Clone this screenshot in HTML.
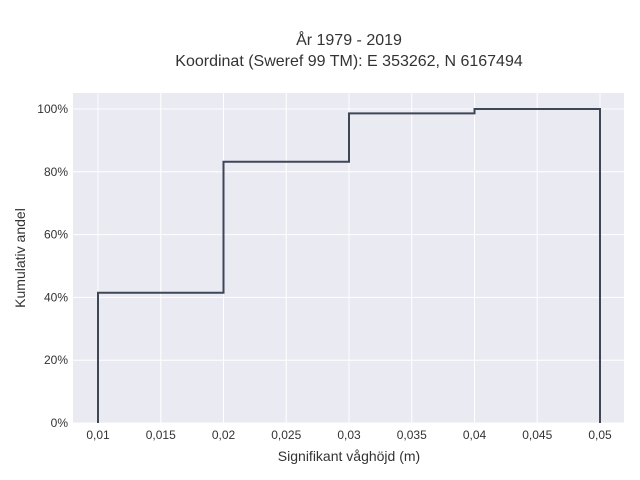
<!DOCTYPE html>
<html><head><meta charset="utf-8"><style>
body{margin:0;background:#fff;}
svg{display:block;font-family:"Liberation Sans",sans-serif;}
</style></head><body>
<svg id="chart" width="640" height="480" xmlns="http://www.w3.org/2000/svg">
<rect x="0" y="0" width="640" height="480" fill="#fff"/>
<text x="349" y="45" text-anchor="middle" font-size="16" fill="#333">År 1979 - 2019</text>
<text x="349" y="66" text-anchor="middle" font-size="16" fill="#333">Koordinat (Sweref 99 TM): E 353262, N 6167494</text>
<rect x="73" y="93" width="551" height="330" fill="#eaeaf2"/>
<g id="grid"></g>
<g id="xticks"></g>
<g id="yticks"></g>
<path id="step" fill="none" stroke="#3d4756" stroke-width="2"/>
<text x="349" y="461" text-anchor="middle" font-size="14" fill="#333">Signifikant våghöjd (m)</text>
<text x="25" y="258" text-anchor="middle" font-size="14" fill="#333" transform="rotate(-90 25 258)">Kumulativ andel</text>
</svg>
<script>
const binEdges=[0.01,0.02,0.03,0.04,0.05];
const cumulative=[41.5,83.2,98.6,100];
const xTickValues=[0.01,0.015,0.02,0.025,0.03,0.035,0.04,0.045,0.05];
const xTickLabels=["0,01","0,015","0,02","0,025","0,03","0,035","0,04","0,045","0,05"];
const yTickValues=[0,20,40,60,80,100];
const yTickLabels=["0%","20%","40%","60%","80%","100%"];
const NS="http://www.w3.org/2000/svg";
const X0=98,X1=600,Y0=423,Y1=109;
function xs(v){return X0+(v-0.01)/(0.05-0.01)*(X1-X0);}
function ys(v){return Y0-v/100*(Y0-Y1);}
const grid=document.getElementById('grid');
const xt=document.getElementById('xticks');
const yt=document.getElementById('yticks');
xTickValues.forEach((v,i)=>{
  const l=document.createElementNS(NS,'line');
  l.setAttribute('x1',xs(v));l.setAttribute('x2',xs(v));l.setAttribute('y1',93);l.setAttribute('y2',423);
  l.setAttribute('stroke','#fff');l.setAttribute('stroke-width','1');
  
  
  grid.appendChild(l);
  const t=document.createElementNS(NS,'text');
  t.setAttribute('x',xs(v));t.setAttribute('y',439);t.setAttribute('text-anchor','middle');
  t.setAttribute('font-size','12');t.setAttribute('fill','#333');
  t.textContent=xTickLabels[i];
  
  
  xt.appendChild(t);
});
yTickValues.forEach((v,i)=>{
  const l=document.createElementNS(NS,'line');
  l.setAttribute('x1',73);l.setAttribute('x2',624);l.setAttribute('y1',ys(v));l.setAttribute('y2',ys(v));
  l.setAttribute('stroke','#fff');l.setAttribute('stroke-width','1');
  
  
  grid.appendChild(l);
  const t=document.createElementNS(NS,'text');
  t.setAttribute('x',68);t.setAttribute('y',ys(v)+4);t.setAttribute('text-anchor','end');
  t.setAttribute('font-size','12');t.setAttribute('fill','#333');
  t.textContent=yTickLabels[i];
  
  
  yt.appendChild(t);
});
let d='M'+xs(binEdges[0])+','+ys(0);
cumulative.forEach((c,i)=>{
  d+=' L'+xs(binEdges[i])+','+ys(c)+' L'+xs(binEdges[i+1])+','+ys(c);
});
d+=' L'+xs(binEdges[binEdges.length-1])+','+ys(0);
document.getElementById('step').setAttribute('d',d);
</script>
</body></html>
